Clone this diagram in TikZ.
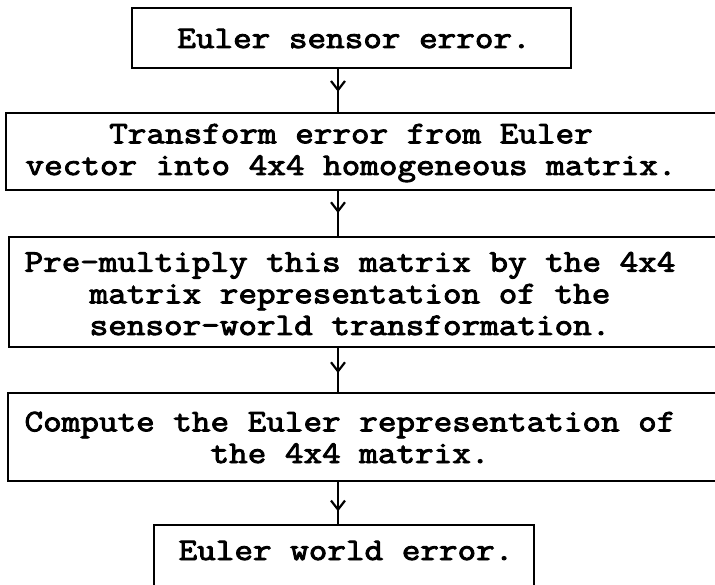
\documentclass[tikz,border=0pt]{standalone}
\usepackage{fontspec}
\newfontfamily\typefont{Latin Modern Mono}[FakeStretch=1.15,FakeBold=3]
\usetikzlibrary{arrows.meta,decorations.markings}
\begin{document}
\begin{tikzpicture}[x=1pt,y=-1pt,
  box/.style={draw,line width=2.2pt,rectangle,inner sep=0pt},
  lbl/.style={font=\typefont\fontsize{31.4}{31.7}\selectfont,
    align=center,anchor=base,inner sep=0pt},
  flow/.style={line width=2.2pt,postaction={decorate},
    decoration={markings,mark=at position #1 with
      {\arrow{Straight Barb[length=9pt,width=14pt,line width=2.2pt]}}}}]
\useasboundingbox (0,0) rectangle (715,585);
\clip (0,0) rectangle (715,585);

% boxes of the flow chart (the wide ones run past the right edge)
\node[box,minimum width=439pt,minimum height=60pt]  (b1) at (351.5,38)  {};
\node[box,minimum width=754pt,minimum height=77pt]  (b2) at (383,151.5) {};
\node[box,minimum width=751pt,minimum height=110pt] (b3) at (384.5,292) {};
\node[box,minimum width=752pt,minimum height=88pt]  (b4) at (384,437)   {};
\node[box,minimum width=380pt,minimum height=115pt] (b5) at (344,582.5) {};

% texts (a node's base is the baseline of its last line)
\node[lbl] (t1) at (354,48) {Euler sensor error.};
\node[lbl] (t2) at (351,175) {Transform error from Euler\\vector into 4x4 homogeneous matrix.};
\node[lbl] (t3) at (350,335) {Pre-multiply this matrix by the 4x4\\matrix representation of the\\sensor-world transformation.};
\node[lbl] (t4) at (350,463) {Compute the Euler representation of\\the 4x4 matrix.};
\node[lbl] (t5) at (346,560) {Euler world error.};

% connectors
\coordinate (ax) at (338,0);
\draw[flow=0.53] (b1.south -| ax) -- (b2.north -| ax);
\draw[flow=0.49] (b2.south -| ax) -- (b3.north -| ax);
\draw[flow=0.57] (b3.south -| ax) -- (b4.north -| ax);
\draw[flow=0.70] (b4.south -| ax) -- (b5.north -| ax);
\end{tikzpicture}
\end{document}
